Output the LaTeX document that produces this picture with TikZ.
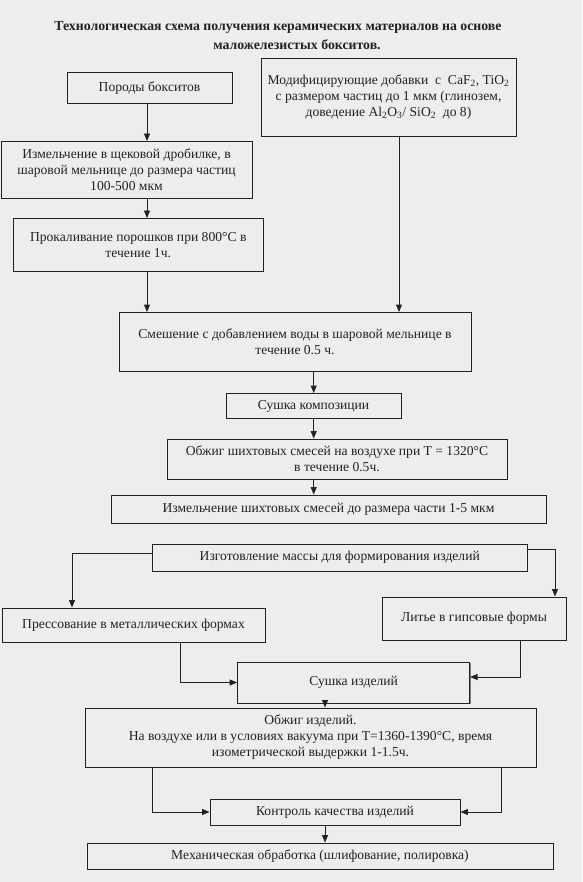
\documentclass[tikz,border=0pt]{standalone}
\usepackage{fontspec}
\setmainfont{Liberation Serif}
\usetikzlibrary{arrows.meta,shadows}
\definecolor{bg}{HTML}{EDEDED}
\definecolor{ink}{HTML}{222222}
\begin{document}
\begin{tikzpicture}[x=1pt,y=-1pt,
  box/.style={draw=ink, line width=0.9pt, fill=bg, inner sep=1pt, align=center,
    font=\fontsize{13.6}{16}\selectfont, text=ink,
    drop shadow={shadow xshift=0.9pt,shadow yshift=-0.9pt,fill=black!60,opacity=0.8}},
  ttl/.style={font=\fontsize{13.8}{16}\selectfont\bfseries, text=ink, inner sep=0pt},
  arr/.style={draw=ink, line width=0.9pt, -{Triangle[length=7.5pt,width=6pt]}}]
\useasboundingbox[fill=bg] (0,0) rectangle (582,882);

\node[ttl] (t1) at (278,27) {Технологическая схема получения керамических материалов на основе};
\node[ttl] (t2) at (297,45) {маложелезистых бокситов.};

\node[box, minimum width=165pt, minimum height=31pt] (poro) at (149.5,88) {Породы бокситов};
\node[box, minimum width=255pt, minimum height=78pt] (mod) at (388.5,97)
  {Модифицирующие добавки \ с \ CaF\textsubscript{2}, TiO\textsubscript{2}\\
   с размером частиц до 1 мкм (глинозем,\\
   доведение Al\textsubscript{2}O\textsubscript{3}/ SiO\textsubscript{2} \ до 8)};
\node[box, minimum width=251pt, minimum height=57pt] (izm) at (126.5,170)
  {Измельчение в щековой дробилке, в\\ шаровой мельнице до размера частиц\\ 100-500 мкм};
\node[box, minimum width=250pt, minimum height=53pt] (prok) at (138.25,245)
  {Прокаливание порошков при 800°C в\\ течение 1ч.};
\node[box, minimum width=352pt, minimum height=59pt] (smesh) at (295,342)
  {Смешение с добавлением воды в шаровой мельнице в\\ течение 0.5 ч.};
\node[box, minimum width=175pt, minimum height=25pt] (sushk) at (313.5,406)
  {Сушка композиции};
\node[box, minimum width=340pt, minimum height=40pt] (obsh) at (337,459)
  {Обжиг шихтовых смесей на воздухе при T = 1320°C\\ в течение 0.5ч.};
\node[box, minimum width=435pt, minimum height=28pt] (izmsh) at (328.5,509)
  {Измельчение шихтовых смесей до размера части 1-5 мкм};
\node[box, minimum width=375pt, minimum height=27pt] (izg) at (339.75,557.5)
  {Изготовление массы для формирования изделий};
\node[box, minimum width=263pt, minimum height=34pt] (press) at (133.5,625)
  {Прессование в металлических формах};
\node[box, minimum width=184pt, minimum height=43pt] (lit) at (474,618.5)
  {Литье в гипсовые формы};
\node[box, minimum width=232pt, minimum height=41pt] (sushi) at (353.6,682.5)
  {Сушка изделий};
\node[box, minimum width=451pt, minimum height=59pt] (obi) at (310.5,737.5)
  {Обжиг изделий.\\ На воздухе или в условиях вакуума при T=1360-1390°C, время\\ изометрической выдержки 1-1.5ч.};
\node[box, minimum width=250pt, minimum height=26pt] (kon) at (335,812)
  {Контроль качества изделий};
\node[box, minimum width=466pt, minimum height=26pt] (mech) at (320,856)
  {Механическая обработка (шлифование, полировка)};

\coordinate (cA) at (147,0);
\coordinate (cB) at (399,0);
\coordinate (cC) at (313.7,0);
\coordinate (cD) at (325,0);
\coordinate (cL) at (72,0);
\coordinate (cR) at (555,0);
\coordinate (cP) at (180,0);
\coordinate (cQ) at (520,0);
\coordinate (cK) at (152,0);
\coordinate (cM) at (501,0);
\coordinate (yL) at (0,553);
\coordinate (yR) at (0,549);
\coordinate (yS) at (0,677);

\draw[arr] (poro.south -| cA) -- (izm.north -| cA);
\draw[arr] (izm.south -| cA) -- (prok.north -| cA);
\draw[arr] (prok.south -| cA) -- (smesh.north -| cA);
\draw[arr] (mod.south -| cB) -- (smesh.north -| cB);
\draw[arr] (smesh.south -| cC) -- (sushk.north -| cC);
\draw[arr] (sushk.south -| cC) -- (obsh.north -| cC);
\draw[arr] (obsh.south -| cC) -- (izmsh.north -| cC);
\draw[arr] (izg.west |- yL) -| (press.north -| cL);
\draw[arr] (izg.east |- yR) -| (lit.north -| cR);
\draw[arr] (press.south -| cP) |- (sushi.west);
\draw[arr] (lit.south -| cQ) |- (sushi.east |- yS);
\draw[arr] (sushi.south -| cD) -- (obi.north -| cD);
\draw[arr] (obi.south -| cK) |- (kon.west);
\draw[arr] (obi.south -| cM) |- (kon.east);
\draw[arr] (kon.south -| cD) -- (mech.north -| cD);
\end{tikzpicture}
\end{document}
